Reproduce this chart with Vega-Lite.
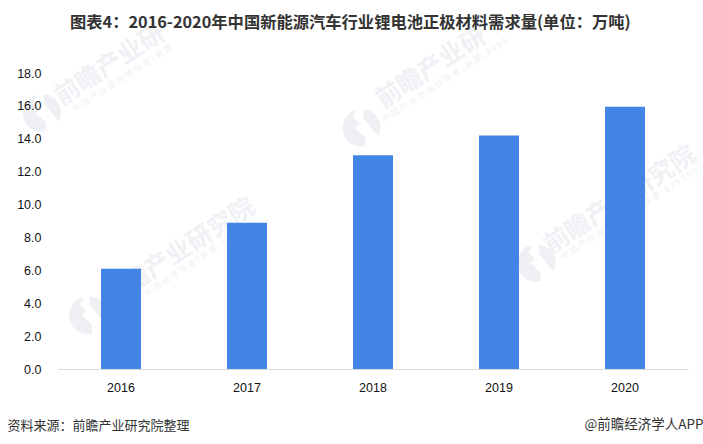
{
  "$schema": "https://vega.github.io/schema/vega-lite/v6.json",
  "width": 630,
  "height": 296,
  "autosize": "none",
  "padding": {"left": 58, "top": 73, "right": 15, "bottom": 75},
  "background": "white",
  "title": {
    "text": "图表4\uff1a2016-2020年中国新能源汽车行业锂电池正极材料需求量(单位\uff1a万吨)",
    "font": "Noto Sans CJK SC",
    "fontSize": 16.3,
    "fontWeight": "bold",
    "color": "#333333",
    "anchor": "start",
    "dx": 63,
    "offset": -10
  },
  "datasets": {
    "demand": [
      {"year": "2016", "demand": 6.1},
      {"year": "2017", "demand": 8.9},
      {"year": "2018", "demand": 13.0},
      {"year": "2019", "demand": 14.2},
      {"year": "2020", "demand": 15.95}
    ],
    "mark_big": [
      {"pos": 0.96, "level": 7.12, "label": "前瞻产业研究院"},
      {"pos": 2.96, "level": 18.31, "label": "前瞻产业研"},
      {"pos": 4.46, "level": 10.28, "label": "前瞻产业研究院"},
      {"pos": 0.41, "level": 18.49, "label": "前瞻产业研"}
    ],
    "mark_small": [
      {"pos": 1.03, "level": 6.27, "label": "中 国 产 业 咨 询 领 导 者 ( 股 票 : 8 3 9 5 9 9 )"},
      {"pos": 3.07, "level": 17.58, "label": "中 国 产 业 咨 询 领 导 者 ( 股 票 : 8 3 9 5"},
      {"pos": 4.53, "level": 9.43, "label": "中 国 产 业 咨 询 领 导 者 ( 股 票 : 8 3 9 5 9 9"},
      {"pos": 0.51, "level": 17.7, "label": "中 国 产 业 咨 询 领 导 者 ( 股 票"}
    ],
    "mark_logo": [
      {"pos": 0.24, "level": 3.28},
      {"pos": 2.41, "level": 14.66},
      {"pos": 3.8, "level": 6.45},
      {"pos": -0.127, "level": 15.57}
    ]
  },
  "layer": [
    {
      "data": {"name": "mark_logo"},
      "mark": {
        "type": "point",
        "filled": true,
        "clip": false,
        "color": "#eef0f4",
        "opacity": 1,
        "size": 1400,
        "shape": "M-0.25,-0.97 A1,1 0 0 0 0.2,0.98 L0.2,0.5 L-0.35,0 L-0.1,-0.25 L-0.45,-0.55 Z M0.1,-1 A1,1 0 0 1 0.9,0.45 L0.1,-0.5 Z"
      },
      "encoding": {
        "x": {"field": "pos", "type": "quantitative", "scale": {"domain": [0, 5]}, "axis": null},
        "y": {"field": "level", "type": "quantitative", "scale": {"domain": [0, 18]}, "axis": null}
      }
    },
    {
      "data": {"name": "mark_big"},
      "mark": {
        "type": "text",
        "font": "Noto Sans CJK SC",
        "fontSize": 25,
        "fontWeight": "bold",
        "color": "#f0f1f5",
        "angle": -33,
        "align": "center",
        "baseline": "middle"
      },
      "encoding": {
        "x": {"field": "pos", "type": "quantitative", "scale": {"domain": [0, 5]}, "axis": null},
        "y": {"field": "level", "type": "quantitative", "scale": {"domain": [0, 18]}, "axis": null},
        "text": {"field": "label"}
      }
    },
    {
      "data": {"name": "mark_small"},
      "mark": {
        "type": "text",
        "font": "Noto Sans CJK SC",
        "fontSize": 8.5,
        "color": "#f0f1f5",
        "angle": -33,
        "align": "center",
        "baseline": "middle"
      },
      "encoding": {
        "x": {"field": "pos", "type": "quantitative", "scale": {"domain": [0, 5]}, "axis": null},
        "y": {"field": "level", "type": "quantitative", "scale": {"domain": [0, 18]}, "axis": null},
        "text": {"field": "label"}
      }
    },
    {
      "data": {"name": "demand"},
      "mark": {"type": "bar", "color": "#4285e4", "size": 40},
      "encoding": {
        "x": {
          "field": "year",
          "type": "ordinal",
          "scale": {"paddingInner": 0.68, "paddingOuter": 0.34},
          "axis": {
            "zindex": 1,
            "labelAngle": 0,
            "labelFont": "Liberation Sans",
            "labelFontSize": 12.5,
            "labelColor": "#111111",
            "labelPadding": 12,
            "ticks": false,
            "domainColor": "#d9d9d9",
            "domainWidth": 1,
            "title": "资料来源\uff1a前瞻产业研究院整理",
            "titleFont": "Noto Sans CJK SC",
            "titleFontSize": 13,
            "titleFontWeight": "normal",
            "titleColor": "#333333",
            "titleAnchor": "start",
            "titleAlign": "left",
            "titleX": -51,
            "titleY": 50
          }
        },
        "y": {
          "field": "demand",
          "type": "quantitative",
          "scale": {"domain": [0, 18]},
          "axis": {
            "zindex": 1,
            "values": [0, 2, 4, 6, 8, 10, 12, 14, 16, 18],
            "format": ".1f",
            "grid": false,
            "domain": false,
            "ticks": false,
            "labelFont": "Liberation Sans",
            "labelFontSize": 12.5,
            "labelColor": "#111111",
            "labelPadding": 17,
            "title": null
          }
        }
      }
    },
    {
      "data": {"name": "demand"},
      "mark": {"type": "bar", "opacity": 0},
      "encoding": {
        "x": {"field": "year", "type": "ordinal", "axis": null},
        "y": {
          "field": "demand",
          "type": "quantitative",
          "axis": {
            "orient": "right",
            "labels": false,
            "grid": false,
            "domain": false,
            "ticks": false,
            "title": "@前瞻经济学人APP",
            "titleFont": "Noto Sans CJK SC",
            "titleFontSize": 13.5,
            "titleFontWeight": "normal",
            "titleColor": "#333333",
            "titleAngle": 0,
            "titleAlign": "right",
            "titleBaseline": "middle",
            "titleX": 15,
            "titleY": 351
          }
        }
      }
    }
  ],
  "resolve": {"scale": {"x": "independent", "y": "independent"}},
  "config": {"view": {"stroke": null}}
}
